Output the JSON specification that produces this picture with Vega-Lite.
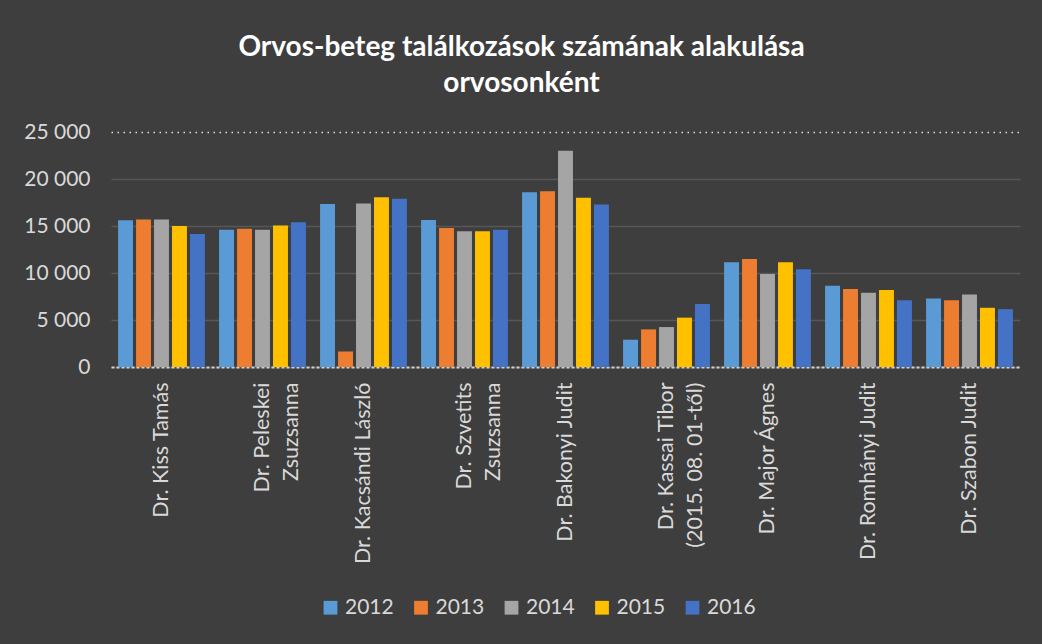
{
  "$schema": "https://vega.github.io/schema/vega-lite/v6.json",
  "width": 909,
  "height": 235,
  "autosize": "none",
  "padding": {"left": 111, "top": 132, "right": 22, "bottom": 277},
  "background": "#3e3e3e",
  "title": {
    "text": ["Orvos-beteg találkozások számának alakulása", "orvosonként"],
    "anchor": "middle",
    "frame": "group",
    "dx": -44,
    "offset": 23,
    "font": "Lato",
    "fontSize": 28,
    "fontWeight": "bold",
    "color": "#ffffff",
    "lineHeight": 36
  },
  "data": {
    "values": [
      {"doctor": "Dr. Kiss Tamás", "year": "2012", "value": 15600},
      {"doctor": "Dr. Kiss Tamás", "year": "2013", "value": 15700},
      {"doctor": "Dr. Kiss Tamás", "year": "2014", "value": 15700},
      {"doctor": "Dr. Kiss Tamás", "year": "2015", "value": 15000},
      {"doctor": "Dr. Kiss Tamás", "year": "2016", "value": 14150},
      {"doctor": "Dr. Peleskei Zsuzsanna", "year": "2012", "value": 14600},
      {"doctor": "Dr. Peleskei Zsuzsanna", "year": "2013", "value": 14700},
      {"doctor": "Dr. Peleskei Zsuzsanna", "year": "2014", "value": 14600},
      {"doctor": "Dr. Peleskei Zsuzsanna", "year": "2015", "value": 15050},
      {"doctor": "Dr. Peleskei Zsuzsanna", "year": "2016", "value": 15400},
      {"doctor": "Dr. Kacsándi László", "year": "2012", "value": 17350},
      {"doctor": "Dr. Kacsándi László", "year": "2013", "value": 1650},
      {"doctor": "Dr. Kacsándi László", "year": "2014", "value": 17400},
      {"doctor": "Dr. Kacsándi László", "year": "2015", "value": 18050},
      {"doctor": "Dr. Kacsándi László", "year": "2016", "value": 17900},
      {"doctor": "Dr. Szvetits Zsuzsanna", "year": "2012", "value": 15650},
      {"doctor": "Dr. Szvetits Zsuzsanna", "year": "2013", "value": 14800},
      {"doctor": "Dr. Szvetits Zsuzsanna", "year": "2014", "value": 14450},
      {"doctor": "Dr. Szvetits Zsuzsanna", "year": "2015", "value": 14450},
      {"doctor": "Dr. Szvetits Zsuzsanna", "year": "2016", "value": 14600},
      {"doctor": "Dr. Bakonyi Judit", "year": "2012", "value": 18600},
      {"doctor": "Dr. Bakonyi Judit", "year": "2013", "value": 18700},
      {"doctor": "Dr. Bakonyi Judit", "year": "2014", "value": 23000},
      {"doctor": "Dr. Bakonyi Judit", "year": "2015", "value": 18000},
      {"doctor": "Dr. Bakonyi Judit", "year": "2016", "value": 17300},
      {"doctor": "Dr. Kassai Tibor (2015. 08. 01-től)", "year": "2012", "value": 2900},
      {"doctor": "Dr. Kassai Tibor (2015. 08. 01-től)", "year": "2013", "value": 4000},
      {"doctor": "Dr. Kassai Tibor (2015. 08. 01-től)", "year": "2014", "value": 4250},
      {"doctor": "Dr. Kassai Tibor (2015. 08. 01-től)", "year": "2015", "value": 5250},
      {"doctor": "Dr. Kassai Tibor (2015. 08. 01-től)", "year": "2016", "value": 6700},
      {"doctor": "Dr. Major Ágnes", "year": "2012", "value": 11150},
      {"doctor": "Dr. Major Ágnes", "year": "2013", "value": 11500},
      {"doctor": "Dr. Major Ágnes", "year": "2014", "value": 9900},
      {"doctor": "Dr. Major Ágnes", "year": "2015", "value": 11150},
      {"doctor": "Dr. Major Ágnes", "year": "2016", "value": 10400},
      {"doctor": "Dr. Romhányi Judit", "year": "2012", "value": 8650},
      {"doctor": "Dr. Romhányi Judit", "year": "2013", "value": 8300},
      {"doctor": "Dr. Romhányi Judit", "year": "2014", "value": 7900},
      {"doctor": "Dr. Romhányi Judit", "year": "2015", "value": 8200},
      {"doctor": "Dr. Romhányi Judit", "year": "2016", "value": 7100},
      {"doctor": "Dr. Szabon Judit", "year": "2012", "value": 7300},
      {"doctor": "Dr. Szabon Judit", "year": "2013", "value": 7100},
      {"doctor": "Dr. Szabon Judit", "year": "2014", "value": 7700},
      {"doctor": "Dr. Szabon Judit", "year": "2015", "value": 6300},
      {"doctor": "Dr. Szabon Judit", "year": "2016", "value": 6150}
    ]
  },
  "mark": {"type": "bar"},
  "encoding": {
    "x": {
      "field": "doctor",
      "type": "nominal",
      "sort": null,
      "scale": {"paddingInner": 0.14, "paddingOuter": 0.07},
      "axis": {
        "title": null,
        "ticks": false,
        "labelAngle": 270,
        "labelAlign": "right",
        "labelBaseline": "middle",
        "labelPadding": 15,
        "labelFont": "Lato",
        "labelFontSize": 21.5,
        "labelColor": "#d9d9d9",
        "labelLineHeight": 29,
        "labelLimit": 0,
        "domainColor": "#d0d0d0",
        "domainWidth": 2,
        "domainDash": [3, 2],
        "labelExpr": "datum.label == 'Dr. Peleskei Zsuzsanna' ? ['Dr. Peleskei', 'Zsuzsanna'] : datum.label == 'Dr. Szvetits Zsuzsanna' ? ['Dr. Szvetits', 'Zsuzsanna'] : datum.label == 'Dr. Kassai Tibor (2015. 08. 01-től)' ? ['Dr. Kassai Tibor', '(2015. 08. 01-től)'] : datum.label"
      }
    },
    "xOffset": {
      "field": "year",
      "type": "nominal",
      "scale": {"paddingInner": 0.17, "paddingOuter": 0}
    },
    "y": {
      "field": "value",
      "type": "quantitative",
      "scale": {"domain": [0, 25000]},
      "axis": {
        "title": null,
        "ticks": false,
        "domain": false,
        "values": [0, 5000, 10000, 15000, 20000, 25000],
        "labelFont": "Lato",
        "labelFontSize": 21,
        "labelColor": "#d9d9d9",
        "labelPadding": 21,
        "labelExpr": "replace(format(datum.value, ','), ',', ' ')",
        "gridWidth": 1.5,
        "gridColor": {"condition": {"test": "datum.value === 25000", "value": "#e0e0e0"}, "value": "#575757"},
        "gridDash": {"condition": {"test": "datum.value === 25000", "value": [1.5, 4.5]}, "value": []}
      }
    },
    "color": {
      "field": "year",
      "type": "nominal",
      "scale": {
        "domain": ["2012", "2013", "2014", "2015", "2016"],
        "range": ["#5b9bd5", "#ed7d31", "#a5a5a5", "#ffc000", "#4472c4"]
      },
      "legend": {
        "title": null,
        "orient": "none",
        "legendX": 209,
        "legendY": 465,
        "direction": "horizontal",
        "symbolType": "square",
        "symbolSize": 190,
        "symbolStrokeWidth": 0,
        "labelFont": "Lato",
        "labelFontSize": 21,
        "labelColor": "#d9d9d9",
        "labelOffset": 4,
        "columnPadding": 16.5
      }
    }
  },
  "config": {"view": {"stroke": null}}
}
